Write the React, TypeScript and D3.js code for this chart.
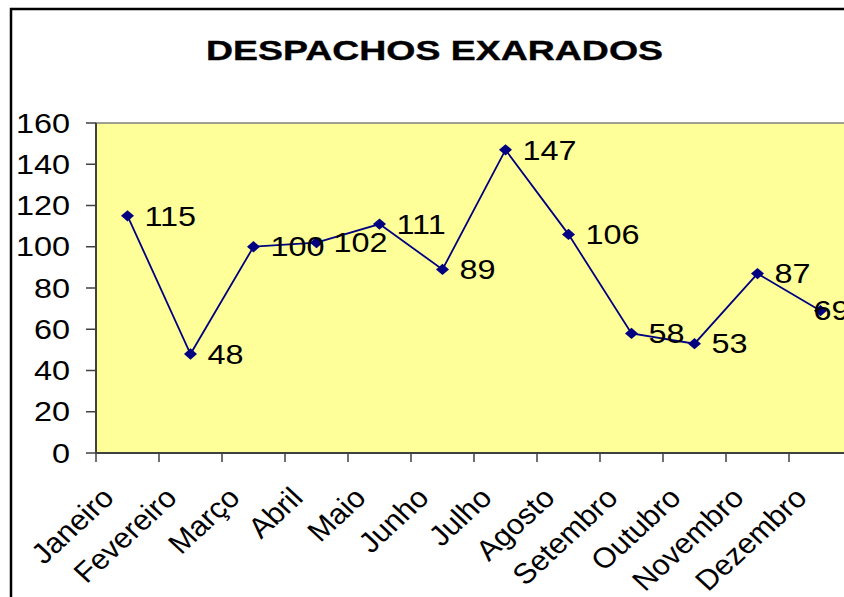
import React from "react";
import * as d3 from "d3";

const categories = ["Janeiro","Fevereiro","Março","Abril","Maio","Junho","Julho","Agosto","Setembro","Outubro","Novembro","Dezembro"];
const values = [115, 48, 100, 102, 111, 89, 147, 106, 58, 53, 87, 69];
const yTicks = [0, 20, 40, 60, 80, 100, 120, 140, 160];
const title = "DESPACHOS EXARADOS";

const W = 844, H = 597;
const plot = { left: 96, top: 123, right: 852, bottom: 453 };
const font = "Arial, 'Liberation Sans', sans-serif";
const navy = "#000080";

export default function App() {
  const x = d3.scaleBand<string>().domain(categories).range([plot.left, plot.right]);
  const y = d3.scaleLinear().domain([0, 160]).range([plot.bottom, plot.top]);
  const cx = (c: string) => (x(c) as number) + x.bandwidth() / 2;
  const line = d3.line<number>().x((_, i) => cx(categories[i])).y((v) => y(v));
  const marker = d3.symbol().type(d3.symbolSquare).size(64)() as string;
  const boundaries = categories.map((c) => x(c) as number).concat([plot.right]);
  const sx = 1.2;
  const numFont = 27;
  const labelLeft = (v: number, i: number) => {
    const w = String(v).length * 0.556 * numFont * sx;
    return Math.min(cx(categories[i]) + 17, plot.right - w - 2.5);
  };

  return (
    <svg width={W} height={H} style={{ position: "absolute", left: 0, top: 0, background: "#fff" }} fontFamily={font}>
      <rect x={11} y={9} width={900} height={700} fill="#fff" stroke="#000" strokeWidth={2.5} />
      <text x={434.5} y={60} textAnchor="middle" fontWeight="bold" fontSize={28} textLength={457} lengthAdjust="spacingAndGlyphs" stroke="#000" strokeWidth={0.4}>{title}</text>
      <rect x={plot.left} y={plot.top} width={plot.right - plot.left} height={plot.bottom - plot.top} fill="#FFFF99" stroke="#808080" strokeWidth={1.5} />
      <line x1={plot.left} x2={plot.left} y1={plot.top} y2={plot.bottom} stroke="#404040" strokeWidth={2} />
      <line x1={plot.left} x2={plot.right} y1={plot.bottom} y2={plot.bottom} stroke="#404040" strokeWidth={2} />
      {yTicks.map((t) => (
        <g key={t}>
          <line x1={86} x2={plot.left} y1={y(t)} y2={y(t)} stroke="#404040" strokeWidth={1.5} />
          <text transform={`translate(70,${y(t) + 9.7}) scale(${sx},1)`} textAnchor="end" fontSize={numFont}>{t}</text>
        </g>
      ))}
      {boundaries.map((b, i) => (
        <line key={i} x1={b} x2={b} y1={plot.bottom} y2={plot.bottom + 9} stroke="#404040" strokeWidth={1.5} />
      ))}
      {categories.map((c) => (
        <text key={c} transform={`translate(${cx(c) - 12},499.5) scale(1.08,1) rotate(-45)`} textAnchor="end" fontSize={28.5}>{c}</text>
      ))}
      <path d={line(values) as string} fill="none" stroke={navy} strokeWidth={1.8} />
      {values.map((v, i) => (
        <path key={i} d={marker} transform={`translate(${cx(categories[i])},${y(v)}) scale(1.15,1) rotate(45)`} fill={navy} />
      ))}
      {values.map((v, i) => (
        <text key={i} transform={`translate(${labelLeft(v, i)},${y(v) + 9.7}) scale(${sx},1)`} fontSize={numFont}>{v}</text>
      ))}
    </svg>
  );
}
